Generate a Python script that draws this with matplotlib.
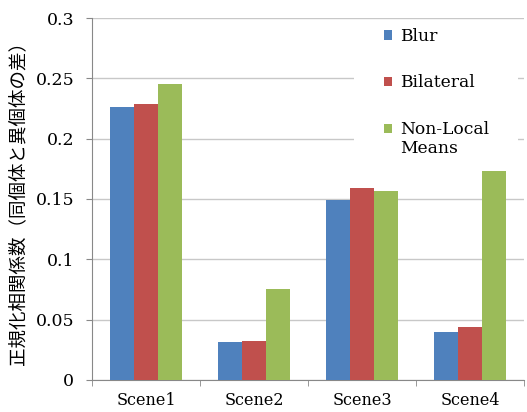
import numpy as np
import matplotlib.pyplot as plt
from matplotlib.patches import Rectangle

# 値
scenes = ['Scene1', 'Scene2', 'Scene3', 'Scene4']
blur = [0.226, 0.031, 0.149, 0.040]
bilateral = [0.229, 0.032, 0.159, 0.044]
nlm = [0.245, 0.075, 0.157, 0.173]
series_names = ['Blur', 'Bilateral', 'Non-Local\nMeans']
colors = ['#4F81BD', '#C0504D', '#9BBB59']

plt.rcParams['font.family'] = ['DejaVu Serif']

fig, ax = plt.subplots(figsize=(5.27, 4.12), dpi=100)
fig.subplots_adjust(left=0.175, right=0.994, top=0.956, bottom=0.078)

x = np.arange(len(scenes))
w = 0.222
for i, vals in enumerate([blur, bilateral, nlm]):
    ax.bar(x + (i - 1) * w, vals, w, color=colors[i], label=series_names[i], zorder=3)

ax.set_xlim(-0.5, 3.5)
ax.set_ylim(0, 0.3)
ax.set_yticks(np.arange(0, 0.31, 0.05))
ax.set_yticklabels(['0', '0.05', '0.1', '0.15', '0.2', '0.25', '0.3'], fontsize=12.5)
ax.set_xticks(x)
ax.set_xticklabels(scenes, fontsize=11.5)
ax.set_xticks(np.arange(-0.5, 3.6, 1), minor=True)
ax.tick_params(axis='x', which='major', length=0, pad=9)
ax.tick_params(axis='x', which='minor', length=4, color='#888888')
ax.tick_params(axis='y', length=4, color='#888888', direction='out', pad=9)

ax.grid(axis='y', color='#C8C8C8', linewidth=1, zorder=0)
for s in ['top', 'right']:
    ax.spines[s].set_visible(False)
for s in ['left', 'bottom']:
    ax.spines[s].set_color('#888888')

ax.set_ylabel('正規化相関係数（同個体と異個体の差）', fontsize=13.3,
              family=['Noto Sans CJK JP', 'DejaVu Sans'], labelpad=6)

# 凡例の白い背景
ax.add_patch(Rectangle((0.606, 0.58), 0.38, 0.41, transform=ax.transAxes,
                       facecolor='white', edgecolor='none', zorder=2))
leg = ax.legend(loc='upper left', bbox_to_anchor=(0.656, 0.996), fontsize=12.3,
                frameon=False, handlelength=0.5, handleheight=0.5,
                handletextpad=0.45, labelspacing=1.72, borderpad=0)
leg.set_zorder(5)
# 2行ラベルのマーカーを1行目に合わせる
h = leg.legend_handles[2]
h.set_y(h.get_y() + 8)

plt.savefig('out.png')
